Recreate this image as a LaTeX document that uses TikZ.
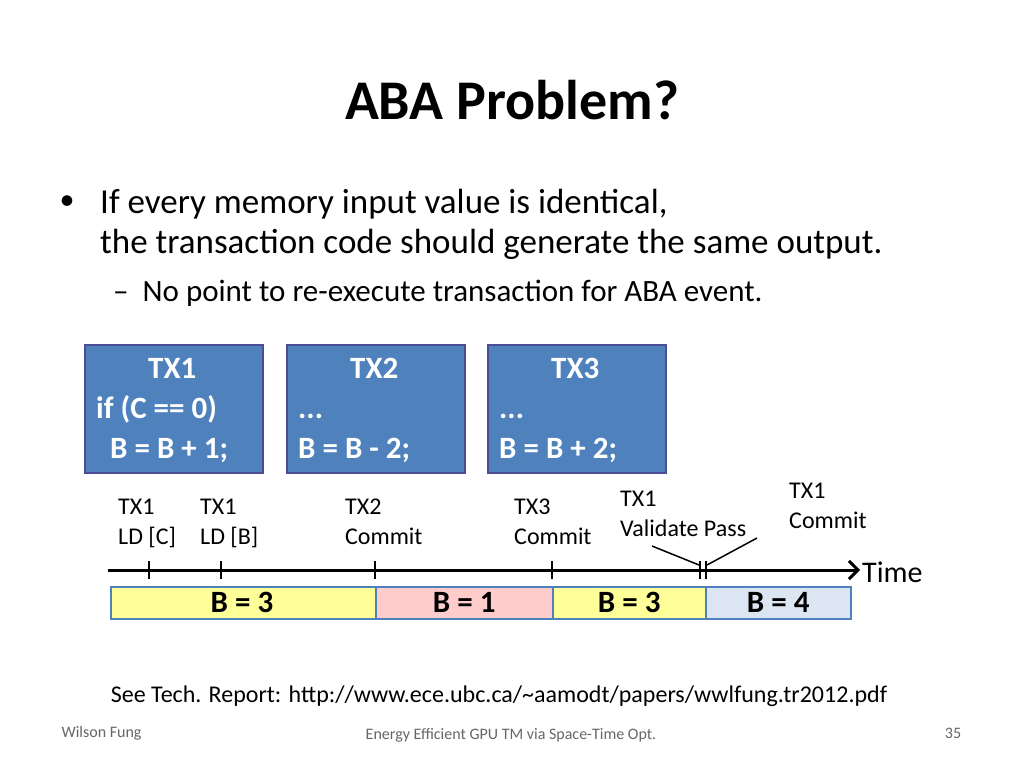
\documentclass[tikz,border=0pt]{standalone}
\usepackage{fontspec}
\usetikzlibrary{arrows.meta}
\setmainfont{Carlito}
\newcommand{\fs}[1]{\fontsize{#1}{#1}\selectfont}
\begin{document}
\begin{tikzpicture}[x=1pt,y=-1pt,
  tx/.style={draw=blue!40!black!70, fill={rgb,255:red,79;green,129;blue,189}, line width=1.5pt, text=white, minimum width=178pt, minimum height=128pt, anchor=north west},
  txt/.style={font=\fs{31}\bfseries,text=white,align=left,anchor=north west,inner sep=0pt},
  lab/.style={font=\fs{24}, align=left, anchor=north west, inner sep=0pt},
  seg/.style={draw={rgb,255:red,79;green,129;blue,189}, line width=1.5pt, font=\fs{31}\bfseries, minimum height=32pt, anchor=north west},
  tick/.style={line width=2.5pt}]
\useasboundingbox (0,0) rectangle (1024,768);
\node[font=\fs{56}\bfseries] (title) at (512,100) {ABA Problem?};
\node[anchor=west,font=\fs{30}] (b1) at (56,203) {\textbullet};
\node[anchor=north west,align=left,font=\fs{35},inner sep=0pt] (t1) at (100,189) {If every memory input value is identical,\\[5pt]the transaction code should generate the same output.};
\node[anchor=north west,font=\fs{31},inner sep=0pt] (t2) at (113,280) {--\ \ No point to re-execute transaction for ABA event.};
\node[tx] (x1) at (84,344) {};
\node[tx] (x2) at (286,344) {};
\node[tx] (x3) at (487,344) {};
\node[txt] (x1t) at (96,358) {\hspace*{52pt}TX1\\[9pt]if (C == 0)\\[9pt]\hspace*{14pt}B = B + 1;};
\node[txt] (x2t) at (298,358) {\hspace*{52pt}TX2\\[9pt]...\\[9pt]B = B - 2;};
\node[txt] (x3t) at (499,358) {\hspace*{52pt}TX3\\[9pt]...\\[9pt]B = B + 2;};
\coordinate (ls) at (108,570); \coordinate (le) at (860,570);
\draw[line width=3pt,-{Straight Barb[length=9pt,width=18pt,line width=3pt]}] (ls) -- (le);
\foreach \x in {149,221,375,552,700,706} \draw[tick] (\x,561) -- (\x,579);
\node[anchor=west,font=\fs{30},inner sep=1pt] (time) at (861,572) {Time};
\node[lab] (l1) at (118,499) {TX1\\[6pt]LD [C]};
\node[lab] (l2) at (200,499) {TX1\\[6pt]LD [B]};
\node[lab] (l3) at (345,499) {TX2\\[6pt]Commit};
\node[lab] (l4) at (514,499) {TX3\\[6pt]Commit};
\node[lab] (l5) at (620,491) {TX1\\[6pt]Validate Pass};
\node[lab] (l6) at (789,483) {TX1\\[6pt]Commit};
\coordinate (p1) at (652,546); \coordinate (p2) at (699,565);
\coordinate (p3) at (757,538); \coordinate (p4) at (707,565);
\draw[line width=1.5pt] (p1) -- (p2);
\draw[line width=1.5pt] (p3) -- (p4);
\node[seg, fill={rgb,255:red,255;green,255;blue,153}, minimum width=265pt] (s1) at (110,586) {};
\node[font=\fs{31}\bfseries] (s1t) at (242,602) {B = 3};
\node[seg, fill={rgb,255:red,255;green,204;blue,204}, minimum width=177pt] (s2) at (375,586) {B = 1};
\node[seg, fill={rgb,255:red,255;green,255;blue,153}, minimum width=153pt] (s3) at (552,586) {B = 3};
\node[seg, fill={rgb,255:red,220;green,230;blue,242}, minimum width=145pt] (s4) at (705,586) {B = 4};
\node[font=\fs{24}] (ref) at (499,696) {See Tech. Report: http://www.ece.ubc.ca/\textasciitilde aamodt/papers/wwlfung.tr2012.pdf};
\node[font=\fs{16},text=black!60,anchor=west] (f1) at (58,733) {Wilson Fung};
\node[font=\fs{16},text=black!60] (f2) at (511,735) {Energy Efficient GPU TM via Space-Time Opt.};
\node[font=\fs{16},text=black!60] (f3) at (953,733) {35};
\end{tikzpicture}
\end{document}
